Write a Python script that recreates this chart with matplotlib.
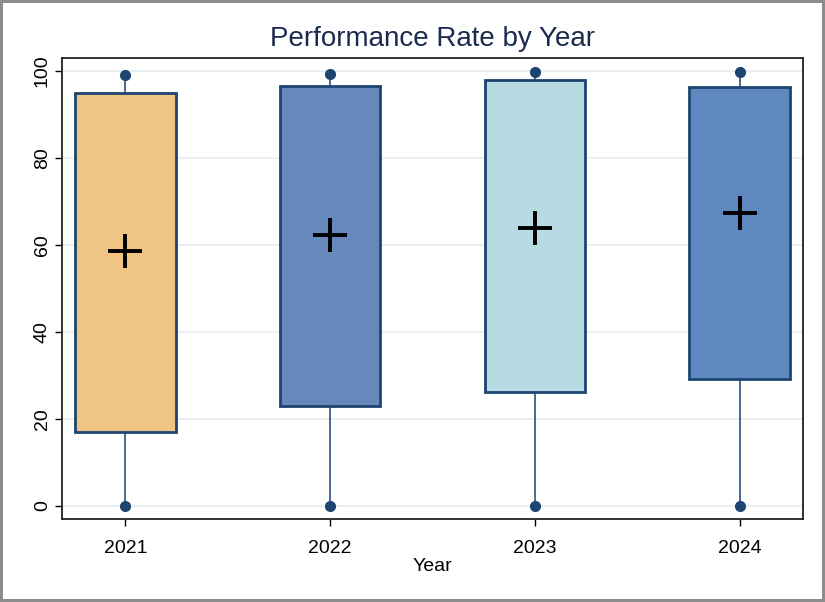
import matplotlib
matplotlib.use("Agg")
import matplotlib.pyplot as plt
from matplotlib.patches import Rectangle

years = ["2021", "2022", "2023", "2024"]
q1 = [17.0, 23.0, 26.2, 29.2]
q3 = [94.9, 96.6, 97.9, 96.3]
mins = [0.0, 0.0, 0.0, 0.0]
maxs = [99.1, 99.3, 99.8, 99.8]
means = [58.6, 62.3, 63.9, 67.4]
colors = ["#F0C584", "#6688BB", "#B8DAE3", "#5F88C0"]

plt.rcParams['font.family'] = ['Liberation Sans', 'DejaVu Sans']

fig = plt.figure(figsize=(8.25, 6.02), dpi=100)
fig.patch.set_facecolor("white")
fig.patch.set_edgecolor("#8c8c8c")
fig.patch.set_linewidth(3)

ax = fig.add_axes([62/825, 1-519/602, (803-62)/825, (519-58)/602])

edge = "#1C4570"
wcol = "#3B5F86"
pos = list(range(1, len(years) + 1))
w = 0.49
for i, p in enumerate(pos):
    ax.plot([p, p], [mins[i], q1[i]], color=wcol, lw=1.3, zorder=2)
    ax.plot([p, p], [q3[i], maxs[i]], color=wcol, lw=1.3, zorder=2)
    ax.add_patch(Rectangle((p - w/2, q1[i]), w, q3[i] - q1[i],
                           facecolor=colors[i], edgecolor=edge, lw=2, zorder=3))
    ax.plot([p, p], [mins[i], maxs[i]], 'o', ls='none', color=edge, ms=7, zorder=4)
    ax.plot(p, means[i], marker='+', color='black', ms=24, mew=2.8, zorder=5)

ax.set_xlim(0.69, 4.31)
ax.set_ylim(-3, 103)
ax.set_yticks([0, 20, 40, 60, 80, 100])
ax.set_xticks(pos)
ax.set_xticklabels(years)
ax.grid(axis='y', color="#E4EDF2", lw=1.2, zorder=0)
ax.set_axisbelow(True)
ax.tick_params(axis='y', labelrotation=90, labelsize=14, length=5, width=1, pad=3)
ax.tick_params(axis='x', labelsize=14, length=5, width=1, pad=10)
for lab in ax.get_yticklabels():
    lab.set_va('center')
for s in ax.spines.values():
    s.set_color("#222222")
    s.set_linewidth(1.3)

ax.set_xlabel("Year", fontsize=14, labelpad=1)
ax.set_title("Performance Rate by Year", fontsize=20, color="#1B2A4E", pad=9)

fig.savefig("out.png", dpi=100)
